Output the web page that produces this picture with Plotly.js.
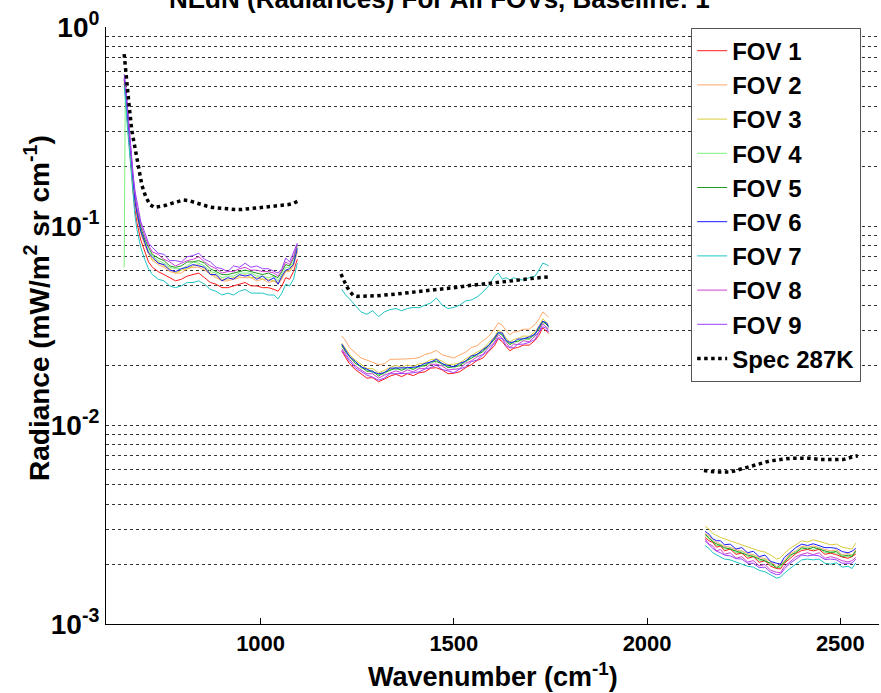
<!DOCTYPE html>
<html><head><meta charset="utf-8">
<script src="https://cdn.plot.ly/plotly-3.0.1.min.js"></script>
<style>html,body{margin:0;padding:0;background:#fff;} #chart{width:881px;height:693px;}</style>
</head><body><div id="chart"></div>
<script>
// ---- data (wavenumber in cm-1, radiance in mW/m2 sr cm-1) ----
const wnLW = [647,650,655,660,665,670,675,680,690,700,710,720,735,750,765,780,795,810,825,840,855,870,885,900,915,930,945,960,975,990,1005,1020,1035,1045,1055,1065,1075,1085,1095];
const wnMW = [1210,1220,1230,1245,1260,1275,1290,1305,1320,1335,1350,1365,1380,1395,1410,1425,1440,1455,1470,1485,1500,1515,1530,1545,1560,1575,1590,1605,1615,1625,1635,1645,1655,1665,1680,1695,1710,1720,1730,1740,1745];
const wnSW = [2150,2160,2170,2180,2190,2200,2215,2230,2245,2260,2275,2290,2305,2320,2335,2345,2355,2370,2385,2400,2415,2430,2445,2460,2475,2490,2505,2520,2530,2540];

const fov1LW = [0.52,0.46,0.34,0.255,0.192,0.150,0.121,0.104,0.085,0.074,0.066,0.062,0.059,0.057,0.055,0.053,0.054,0.056,0.057,0.058,0.055,0.052,0.051,0.049,0.049,0.050,0.051,0.052,0.050,0.050,0.049,0.049,0.048,0.047,0.050,0.055,0.054,0.059,0.068];
const fov2LW = [0.54,0.48,0.36,0.27,0.205,0.160,0.131,0.113,0.092,0.080,0.073,0.067,0.064,0.062,0.059,0.058,0.058,0.061,0.062,0.062,0.060,0.057,0.055,0.053,0.053,0.054,0.055,0.055,0.055,0.053,0.054,0.052,0.053,0.051,0.054,0.059,0.059,0.063,0.074];
const fov3LW = [0.53,0.49,0.37,0.28,0.208,0.165,0.135,0.114,0.094,0.082,0.074,0.068,0.066,0.063,0.061,0.058,0.060,0.061,0.063,0.064,0.061,0.058,0.056,0.054,0.054,0.055,0.056,0.057,0.055,0.055,0.054,0.054,0.053,0.052,0.055,0.060,0.060,0.065,0.075];
const fov4LW = [0.062,0.52,0.38,0.285,0.215,0.168,0.138,0.118,0.097,0.084,0.075,0.071,0.067,0.065,0.062,0.061,0.061,0.063,0.066,0.065,0.063,0.059,0.058,0.055,0.056,0.056,0.058,0.058,0.058,0.056,0.056,0.055,0.056,0.053,0.057,0.062,0.062,0.066,0.078];
const fov5LW = [0.54,0.50,0.39,0.29,0.222,0.172,0.142,0.121,0.099,0.086,0.078,0.072,0.069,0.067,0.063,0.062,0.063,0.066,0.066,0.067,0.065,0.061,0.059,0.057,0.057,0.058,0.059,0.060,0.059,0.058,0.057,0.058,0.056,0.055,0.059,0.064,0.063,0.069,0.080];
const fov6LW = [0.55,0.50,0.37,0.28,0.21,0.166,0.133,0.116,0.094,0.083,0.073,0.070,0.065,0.064,0.060,0.059,0.061,0.062,0.064,0.063,0.062,0.057,0.057,0.053,0.055,0.054,0.057,0.056,0.057,0.054,0.056,0.053,0.055,0.051,0.056,0.060,0.061,0.064,0.077];
const fov7LW = [0.50,0.44,0.32,0.24,0.180,0.140,0.112,0.096,0.078,0.068,0.061,0.057,0.054,0.053,0.050,0.049,0.050,0.052,0.052,0.053,0.051,0.048,0.047,0.045,0.046,0.045,0.047,0.048,0.046,0.046,0.046,0.045,0.045,0.043,0.046,0.051,0.050,0.054,0.065];
const fov8LW = [0.56,0.52,0.40,0.30,0.228,0.178,0.146,0.124,0.103,0.089,0.080,0.074,0.072,0.068,0.066,0.063,0.065,0.067,0.068,0.070,0.066,0.063,0.061,0.058,0.059,0.059,0.061,0.062,0.060,0.060,0.059,0.059,0.058,0.056,0.060,0.066,0.064,0.070,0.081];
const fov9LW = [0.58,0.53,0.41,0.31,0.235,0.183,0.150,0.131,0.105,0.093,0.082,0.078,0.073,0.072,0.067,0.067,0.066,0.070,0.071,0.073,0.068,0.066,0.062,0.061,0.059,0.063,0.062,0.065,0.062,0.063,0.061,0.061,0.059,0.058,0.061,0.069,0.066,0.074,0.082];

const fov1MW = [0.0235,0.0220,0.0203,0.0190,0.0180,0.0172,0.0173,0.0165,0.0170,0.0176,0.0180,0.0175,0.0181,0.0177,0.0183,0.0185,0.0193,0.0194,0.0189,0.0181,0.0182,0.0185,0.0194,0.0201,0.0211,0.0217,0.0234,0.0250,0.0272,0.0263,0.0248,0.0236,0.0243,0.0245,0.0252,0.0252,0.0266,0.0282,0.0308,0.0296,0.0290];
const fov2MW = [0.0280,0.0265,0.0245,0.0231,0.0217,0.0212,0.0206,0.0201,0.0203,0.0214,0.0214,0.0214,0.0215,0.0216,0.0218,0.0226,0.0230,0.0237,0.0225,0.0221,0.0217,0.0225,0.0232,0.0245,0.0250,0.0265,0.0279,0.0303,0.0326,0.0318,0.0298,0.0284,0.0293,0.0295,0.0303,0.0303,0.0320,0.0340,0.0370,0.0356,0.0348];
const fov3MW = [0.0258,0.0243,0.0226,0.0212,0.0202,0.0192,0.0192,0.0183,0.0188,0.0195,0.0199,0.0195,0.0200,0.0197,0.0203,0.0205,0.0213,0.0215,0.0209,0.0201,0.0202,0.0205,0.0215,0.0223,0.0233,0.0241,0.0259,0.0277,0.0300,0.0292,0.0274,0.0262,0.0269,0.0272,0.0280,0.0279,0.0295,0.0313,0.0342,0.0328,0.0321];
const fov4MW = [0.0248,0.0236,0.0219,0.0206,0.0193,0.0189,0.0183,0.0179,0.0180,0.0191,0.0190,0.0191,0.0191,0.0193,0.0194,0.0201,0.0204,0.0211,0.0200,0.0197,0.0193,0.0201,0.0206,0.0219,0.0222,0.0236,0.0247,0.0271,0.0287,0.0286,0.0262,0.0256,0.0257,0.0266,0.0267,0.0273,0.0282,0.0306,0.0327,0.0321,0.0307];
const fov5MW = [0.0252,0.0233,0.0222,0.0204,0.0197,0.0186,0.0187,0.0176,0.0184,0.0188,0.0194,0.0188,0.0195,0.0190,0.0198,0.0198,0.0208,0.0208,0.0204,0.0194,0.0197,0.0198,0.0210,0.0216,0.0227,0.0233,0.0252,0.0268,0.0293,0.0282,0.0268,0.0253,0.0263,0.0262,0.0273,0.0270,0.0288,0.0302,0.0333,0.0317,0.0313];
const fov6MW = [0.0255,0.0238,0.0221,0.0209,0.0196,0.0191,0.0185,0.0181,0.0183,0.0193,0.0193,0.0193,0.0194,0.0195,0.0197,0.0204,0.0207,0.0214,0.0203,0.0199,0.0196,0.0204,0.0209,0.0222,0.0226,0.0239,0.0251,0.0275,0.0291,0.0290,0.0266,0.0260,0.0261,0.0270,0.0271,0.0277,0.0286,0.0311,0.0332,0.0326,0.0312];
const fov7MW = [0.048,0.045,0.043,0.040,0.037,0.036,0.0375,0.035,0.037,0.038,0.0385,0.0375,0.0385,0.039,0.0388,0.040,0.041,0.0435,0.040,0.0385,0.039,0.040,0.042,0.0425,0.044,0.0465,0.050,0.056,0.058,0.054,0.055,0.0535,0.055,0.054,0.0535,0.055,0.056,0.060,0.065,0.064,0.063];
const fov8MW = [0.0242,0.0227,0.0214,0.0198,0.0190,0.0181,0.0181,0.0172,0.0178,0.0183,0.0187,0.0183,0.0189,0.0185,0.0192,0.0192,0.0202,0.0202,0.0198,0.0189,0.0191,0.0192,0.0204,0.0210,0.0220,0.0226,0.0245,0.0260,0.0284,0.0274,0.0260,0.0245,0.0255,0.0254,0.0265,0.0262,0.0280,0.0293,0.0323,0.0308,0.0303];
const fov9MW = [0.0238,0.0222,0.0209,0.0194,0.0186,0.0178,0.0174,0.0168,0.0172,0.0181,0.0181,0.0181,0.0182,0.0183,0.0185,0.0191,0.0194,0.0200,0.0190,0.0187,0.0183,0.0191,0.0196,0.0208,0.0212,0.0225,0.0236,0.0258,0.0274,0.0272,0.0250,0.0244,0.0245,0.0254,0.0255,0.0260,0.0269,0.0292,0.0312,0.0306,0.0293];

const fov1SW = [0.00272,0.00262,0.00257,0.00243,0.00247,0.00233,0.00238,0.00224,0.00227,0.00214,0.00218,0.00204,0.00208,0.00195,0.00190,0.00189,0.00202,0.00213,0.00226,0.00234,0.00237,0.00233,0.00237,0.00224,0.00227,0.00223,0.00217,0.00214,0.00218,0.00225];
const fov2SW = [0.00285,0.00278,0.00263,0.00257,0.00253,0.00246,0.00243,0.00236,0.00233,0.00226,0.00223,0.00216,0.00213,0.00206,0.00194,0.00200,0.00208,0.00226,0.00233,0.00246,0.00243,0.00247,0.00243,0.00237,0.00233,0.00236,0.00223,0.00226,0.00222,0.00236];
const fov3SW = [0.00310,0.00300,0.00285,0.00278,0.00272,0.00268,0.00262,0.00257,0.00250,0.00245,0.00240,0.00233,0.00230,0.00222,0.00212,0.00215,0.00226,0.00240,0.00250,0.00262,0.00258,0.00265,0.00260,0.00255,0.00250,0.00252,0.00243,0.00240,0.00238,0.00255];
const fov4SW = [0.00278,0.00268,0.00262,0.00247,0.00252,0.00238,0.00241,0.00228,0.00232,0.00218,0.00222,0.00208,0.00212,0.00198,0.00193,0.00192,0.00206,0.00218,0.00232,0.00238,0.00242,0.00237,0.00242,0.00228,0.00232,0.00227,0.00221,0.00218,0.00222,0.00230];
const fov5SW = [0.00282,0.00272,0.00258,0.00252,0.00248,0.00242,0.00238,0.00232,0.00228,0.00222,0.00218,0.00212,0.00208,0.00202,0.00191,0.00197,0.00204,0.00222,0.00228,0.00242,0.00238,0.00243,0.00238,0.00233,0.00228,0.00232,0.00218,0.00222,0.00218,0.00233];
const fov6SW = [0.00292,0.00283,0.00268,0.00262,0.00262,0.00250,0.00252,0.00238,0.00242,0.00228,0.00232,0.00218,0.00222,0.00206,0.00202,0.00200,0.00216,0.00228,0.00242,0.00252,0.00248,0.00253,0.00248,0.00242,0.00242,0.00240,0.00231,0.00228,0.00232,0.00240];
const fov7SW = [0.00248,0.00240,0.00228,0.00222,0.00216,0.00212,0.00210,0.00205,0.00200,0.00195,0.00193,0.00186,0.00183,0.00176,0.00170,0.00172,0.00180,0.00190,0.00200,0.00210,0.00212,0.00210,0.00212,0.00202,0.00200,0.00203,0.00193,0.00195,0.00190,0.00203];
const fov8SW = [0.00268,0.00252,0.00247,0.00233,0.00237,0.00224,0.00228,0.00214,0.00218,0.00205,0.00208,0.00196,0.00199,0.00186,0.00182,0.00181,0.00194,0.00205,0.00218,0.00224,0.00228,0.00223,0.00228,0.00214,0.00218,0.00214,0.00208,0.00205,0.00208,0.00216];
const fov9SW = [0.00262,0.00250,0.00240,0.00232,0.00228,0.00222,0.00220,0.00213,0.00212,0.00202,0.00202,0.00192,0.00193,0.00182,0.00177,0.00178,0.00189,0.00202,0.00212,0.00222,0.00220,0.00222,0.00220,0.00211,0.00212,0.00210,0.00202,0.00203,0.00202,0.00212];

const specWnLW = [647,650,655,660,667,675,683,693,703,714,725,740,755,770,785,800,815,830,845,860,875,890,905,920,935,950,965,980,995,1010,1025,1040,1055,1070,1085,1095];
const specLW = [0.73,0.62,0.50,0.40,0.30,0.245,0.207,0.160,0.140,0.128,0.124,0.125,0.127,0.130,0.133,0.135,0.134,0.131,0.128,0.126,0.124,0.123,0.122,0.121,0.121,0.121,0.122,0.122,0.123,0.124,0.125,0.126,0.127,0.128,0.130,0.133];
const specWnMW = [1208,1215,1222,1230,1240,1250,1275,1300,1350,1400,1450,1500,1550,1600,1650,1700,1745];
const specMW = [0.0574,0.053,0.050,0.047,0.0448,0.0443,0.0443,0.0446,0.0455,0.0465,0.0477,0.049,0.0505,0.052,0.053,0.0545,0.0555];
const specWnSW = [2147,2180,2215,2240,2266,2290,2318,2345,2370,2400,2421,2450,2473,2507,2530,2545];
const specSW = [0.0059,0.0058,0.0058,0.0060,0.0062,0.0064,0.0066,0.0067,0.0068,0.0068,0.0068,0.0067,0.0067,0.0067,0.0069,0.0070];

const seriesNames = ['FOV 1','FOV 2','FOV 3','FOV 4','FOV 5','FOV 6','FOV 7','FOV 8','FOV 9'];
const specName = 'Spec 287K';
const xTickVals = [1000,1500,2000,2500];
const xTickText = ['1000','1500','2000','2500'];
const yTickVals = [0.001,0.01,0.1,1];
const yTickText = ['10<sup>-3</sup>','10<sup>-2</sup>','10<sup>-1</sup>','10<sup>0</sup>'];
const yMinorVals = [0.002,0.003,0.004,0.005,0.006,0.007,0.008,0.009,0.02,0.03,0.04,0.05,0.06,0.07,0.08,0.09,0.2,0.3,0.4,0.5,0.6,0.7,0.8,0.9];
const titleText = 'NEdN (Radiances) For All FOVs, Baseline: 1';
const xTitleText = 'Wavenumber (cm<sup>-1</sup>)';
const yTitleText = 'Radiance (mW/m<sup>2</sup> sr cm<sup>-1</sup>)';

// ---- styles ----
const colors = ['#ff1a1a','#ffa868','#d8cc3c','#7cf07c','#1f9a1f','#1a1aff','#1fc4c4','#d040d0','#9a40ff'];

const lw = [fov1LW,fov2LW,fov3LW,fov4LW,fov5LW,fov6LW,fov7LW,fov8LW,fov9LW];
const mw = [fov1MW,fov2MW,fov3MW,fov4MW,fov5MW,fov6MW,fov7MW,fov8MW,fov9MW];
const sw = [fov1SW,fov2SW,fov3SW,fov4SW,fov5SW,fov6SW,fov7SW,fov8SW,fov9SW];
const xAll = wnLW.concat([null], wnMW, [null], wnSW);

const traces = seriesNames.map((n,i)=>({
  type:'scatter', mode:'lines', name:n,
  x:xAll, y:lw[i].concat([null], mw[i], [null], sw[i]),
  connectgaps:false,
  line:{color:colors[i], width:1}
}));
traces.push({
  type:'scatter', mode:'lines', name:specName,
  x:specWnLW.concat([null], specWnMW, [null], specWnSW),
  y:specLW.concat([null], specMW, [null], specSW),
  connectgaps:false,
  line:{color:'#000', width:3.5, dash:'dot'}
});

const FONT = 'Liberation Sans, Arial, Helvetica, sans-serif';
const layout = {
  width:881, height:693,
  margin:{l:106, r:2, t:27, b:69},
  paper_bgcolor:'#fff', plot_bgcolor:'#fff',
  font:{family:FONT, color:'#000'},
  showlegend:true,
  xaxis:{range:[600,2600], tickvals:xTickVals, ticktext:xTickText, ticks:'inside', ticklen:6, tickwidth:1, tickcolor:'#000',
         showline:true, linecolor:'#000', linewidth:1, showgrid:false, zeroline:false,
         tickfont:{family:FONT, size:22, weight:'bold'}},
  yaxis:{type:'log', range:[-3,0], tickvals:yTickVals, ticktext:yTickText, ticks:'',
         showline:true, linecolor:'#000', linewidth:1, showgrid:true, gridcolor:'#333', gridwidth:1, griddash:'dot',
         minor:{tickmode:'array', tickvals:yMinorVals, ticks:'', showgrid:true, gridcolor:'#333', gridwidth:1, griddash:'dot'},
         zeroline:false, tickfont:{family:FONT, size:28, weight:'bold'}},
  legend:{x:0.757, y:0.999, xanchor:'left', yanchor:'top', bgcolor:'#fff', bordercolor:'#555', borderwidth:1,
          font:{family:FONT, size:24, weight:'bold', color:'#000'}, itemwidth:30, tracegroupgap:0},
  annotations:[
    {text:titleText, xref:'paper', yref:'paper', x:0.431, y:1.047, xanchor:'center', yanchor:'middle', showarrow:false,
     font:{family:FONT, size:26, weight:'bold', color:'#000'}},
    {text:xTitleText, xref:'paper', yref:'paper', x:0.5, y:-0.085, xanchor:'center', yanchor:'middle', showarrow:false,
     font:{family:FONT, size:27, weight:'bold', color:'#000'}},
    {text:yTitleText, xref:'paper', yref:'paper', x:-0.09, y:0.53, xanchor:'center', yanchor:'middle', showarrow:false, textangle:-90,
     font:{family:FONT, size:28, weight:'bold', color:'#000'}}
  ]
};
Plotly.newPlot('chart', traces, layout, {staticPlot:true, displayModeBar:false});
</script></body></html>
